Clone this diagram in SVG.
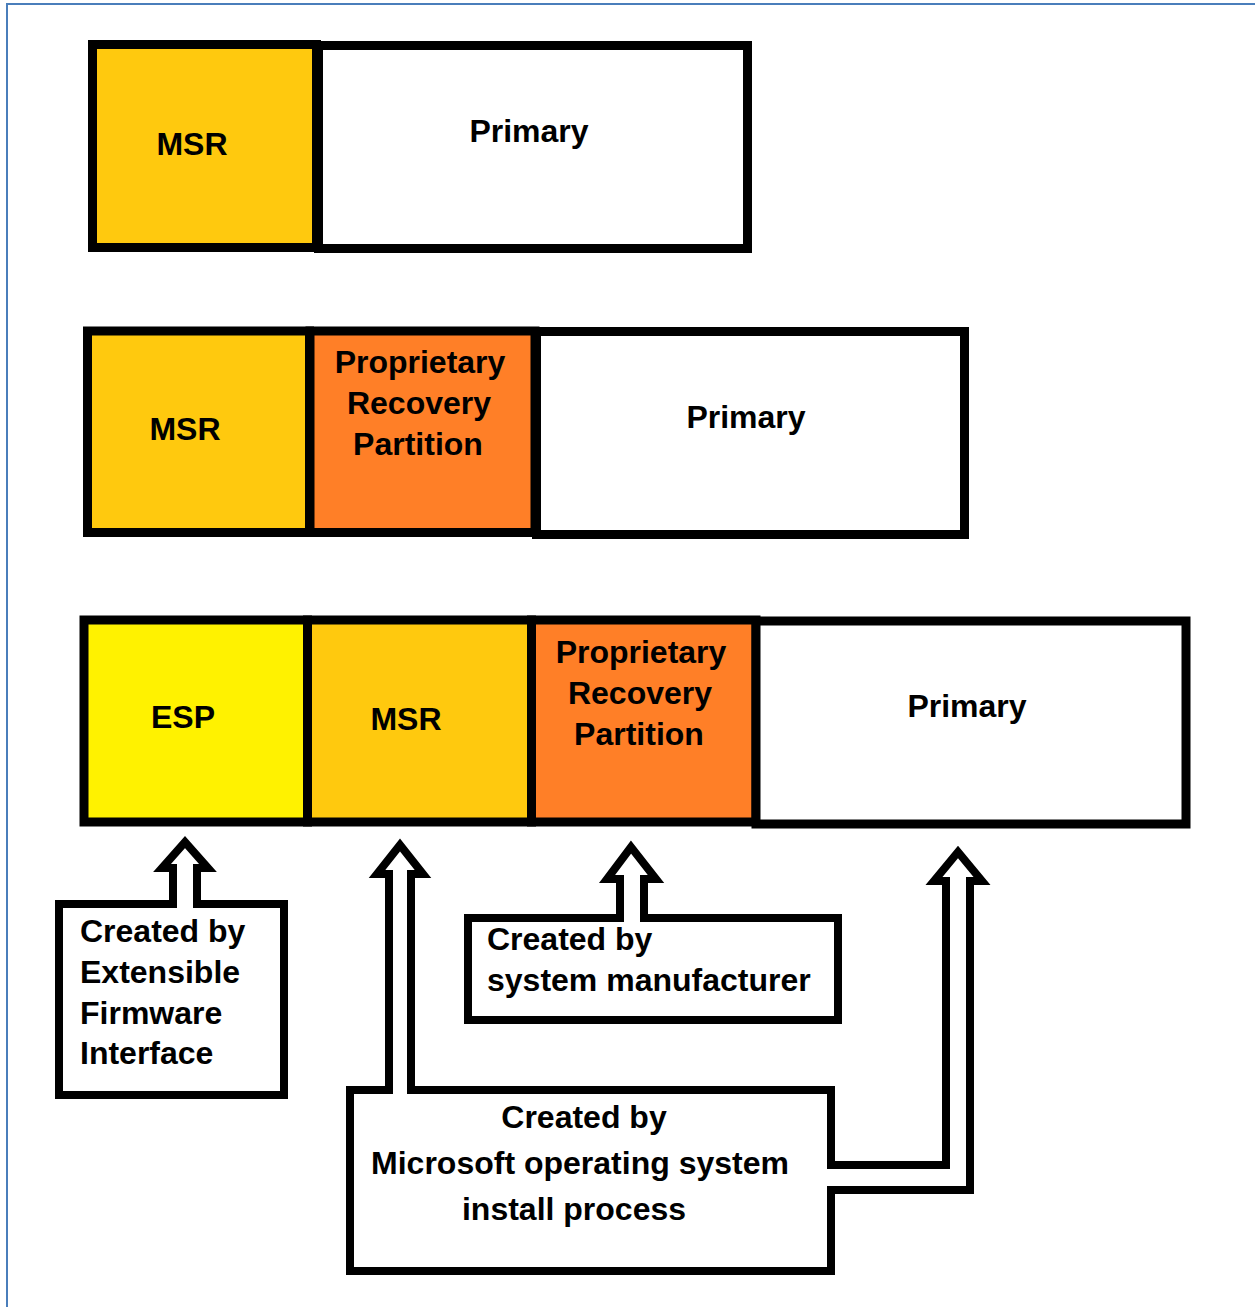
<svg xmlns="http://www.w3.org/2000/svg" width="1255" height="1307" viewBox="0 0 1255 1307">
<style>
.bg{fill:#fff}
.frame{fill:none;stroke:#4a7ebb;stroke-width:2}
.p{stroke:#000;stroke-width:9}
.msr{fill:#ffc90e}
.prp{fill:#ff7f27}
.esp{fill:#fff200}
.pri{fill:#fff}
.note{fill:#fff;stroke:#000;stroke-width:8}
.arrow{fill:#fff;stroke:#000;stroke-width:8;stroke-linejoin:miter;stroke-linecap:butt}
.t{font-family:"Liberation Sans",Arial,sans-serif;font-weight:bold;font-size:32px;fill:#000}
.c{text-anchor:middle}
</style>
<rect class="bg" x="0" y="0" width="1255" height="1307"/>
<rect class="frame" x="7" y="4" width="1300" height="1400"/>

<g id="row1-msr"><rect class="p msr" x="92.5" y="44.5" width="224" height="203"/><text class="t c" x="192" y="155">MSR</text></g>
<g id="row1-primary"><rect class="p pri" x="318.5" y="45.5" width="429" height="203"/><text class="t c" x="529" y="142">Primary</text></g>

<g id="row2-msr"><rect class="p msr" x="87.5" y="331" width="222" height="201.5"/><text class="t c" x="185" y="440">MSR</text></g>
<g id="row2-prp"><rect class="p prp" x="310" y="331" width="225" height="201.5"/><text class="t c" x="420" y="373">Proprietary</text><text class="t c" x="419" y="414">Recovery</text><text class="t c" x="418" y="455">Partition</text></g>
<g id="row2-primary"><rect class="p pri" x="536.5" y="331.5" width="428" height="203"/><text class="t c" x="746" y="428">Primary</text></g>

<g id="row3-esp"><rect class="p esp" x="84" y="620" width="223.5" height="202"/><text class="t c" x="183" y="728">ESP</text></g>
<g id="row3-msr"><rect class="p msr" x="307.5" y="620" width="224" height="202"/><text class="t c" x="406" y="730">MSR</text></g>
<g id="row3-prp"><rect class="p prp" x="531.5" y="620" width="224.5" height="202"/><text class="t c" x="641" y="663">Proprietary</text><text class="t c" x="640" y="704">Recovery</text><text class="t c" x="639" y="745">Partition</text></g>
<g id="row3-primary"><rect class="p pri" x="756" y="621" width="430" height="203"/><text class="t c" x="967" y="717">Primary</text></g>

<g id="note-efi"><rect class="note" x="59" y="904" width="225" height="191"/>
<text class="t" x="80" y="942">Created by</text><text class="t" x="80" y="983">Extensible</text><text class="t" x="80" y="1024">Firmware</text><text class="t" x="80" y="1064">Interface</text></g>
<g id="note-manufacturer"><rect class="note" x="468" y="918" width="370" height="102"/>
<text class="t" x="487" y="950">Created by</text><text class="t" x="487" y="991">system manufacturer</text></g>
<g id="note-microsoft"><rect class="note" x="350" y="1090" width="481" height="181"/>
<text class="t c" x="584" y="1128">Created by</text><text class="t c" x="580" y="1174">Microsoft operating system</text><text class="t c" x="574" y="1220">install process</text></g>

<g id="connectors">
<path class="arrow" d="M173,908 L173,868 L162,868 L185,842 L208,868 L197,868 L197,908"/>
<path class="arrow" d="M389,1094 L389,874 L377,874 L400,845 L423,874 L411,874 L411,1094"/>
<path class="arrow" d="M620,922 L620,879 L607,879 L631,847 L656,879 L644,879 L644,922"/>
<path class="arrow" d="M827,1165 L946,1165 L946,881 L934,881 L958,852 L982,881 L970,881 L970,1190 L827,1190"/>
</g>
</svg>
